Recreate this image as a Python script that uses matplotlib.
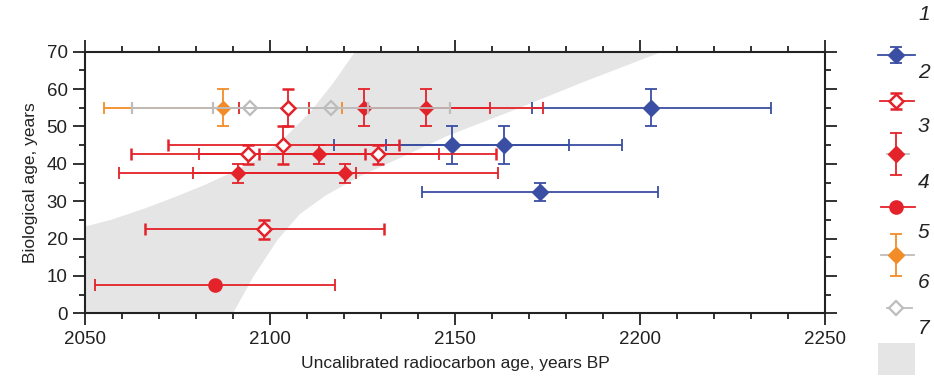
import matplotlib
matplotlib.use("Agg")
import matplotlib.pyplot as plt
from matplotlib.patches import Rectangle
from matplotlib.ticker import MultipleLocator

plt.rcParams['font.family'] = ['Liberation Sans', 'DejaVu Sans']

# ---- data ----
# series 1 (blue filled diamonds)
s1_x = [2203.1, 2149.1, 2163.2, 2173.0]
s1_y = [55, 45, 45, 32.5]
s1_xerr = [32.3, 31.7, 31.8, 31.9]
s1_yerr = [5, 5, 5, 2.5]
# series 2 (red open diamonds)
s2_x = [2104.9, 2103.6, 2094.0, 2129.1, 2098.5]
s2_y = [55, 45, 42.5, 42.5, 22.5]
s2_xerr = [0, 31.3, 31.6, 32.0, 32.2]
s2_yerr = [5, 5, 2.5, 2.5, 2.5]
# series 3 (red filled diamonds)
s3_x = [2125.5, 2142.2, 2113.3, 2091.3, 2120.3]
s3_y = [55, 55, 42.5, 37.5, 37.5]
s3_xerr = [34.0, 31.6, 32.4, 32.0, 41.2]
s3_yerr = [5, 5, 2.5, 2.5, 2.5]
# series 4 (red filled circle)
s4_x = [2085.1]
s4_y = [7.5]
s4_xerr = [32.4]
# series 5 (orange filled diamond)
s5_x = [2087.2]
s5_y = [55]
s5_xerr = [32.2]
s5_yerr = [5]
# series 6 (grey open diamonds)
s6_x = [2094.6, 2116.6]
s6_y = [55, 55]
s6_xerr = [32.0, 32.0]
# grey band (7)
band_upper_x = [2050, 2057, 2066, 2074, 2082, 2090, 2097, 2104, 2111, 2117, 2123]
band_upper_y = [23.2, 25.0, 28.0, 31.0, 34.2, 37.8, 41.5, 47.0, 54.0, 61.5, 70]
band_lower_x = [2206, 2185, 2165, 2148, 2135, 2124, 2115, 2108, 2102, 2095.5, 2090]
band_lower_y = [70, 62.0, 54.0, 47.5, 41.5, 36.5, 31.5, 26.5, 19.6, 9.8, 0]
band_corner_x = [2050]
band_corner_y = [0]

legend_labels = ['1', '2', '3', '4', '5', '6', '7']

BLUE = '#3a4ea3'
RED = '#e3222a'
ORANGE = '#f28c28'
GREY = '#bdbdbd'
BAND = '#e5e5e5'

W, H = 934, 382
fig = plt.figure(figsize=(W / 100, H / 100), dpi=100)
ax = fig.add_axes([85 / W, (H - 313.3) / H, 740 / W, 261.6 / H])

ax.fill(band_upper_x + band_lower_x + band_corner_x,
        band_upper_y + band_lower_y + band_corner_y,
        color=BAND, lw=0, zorder=0)

ekw = dict(capsize=4.5, elinewidth=1.3, capthick=1.3, linestyle='none')

ax.errorbar(s1_x, s1_y, xerr=s1_xerr, yerr=s1_yerr, fmt='D', ms=8,
            color=BLUE, mfc=BLUE, mec=BLUE, zorder=2, **ekw)
ax.errorbar(s3_x, s3_y, xerr=s3_xerr, yerr=s3_yerr, fmt='D', ms=7.5,
            color=RED, mfc=RED, mec=RED, zorder=2, **ekw)
ax.errorbar(s4_x, s4_y, xerr=s4_xerr, fmt='o', ms=9.5,
            color=RED, mfc=RED, mec=RED, zorder=2, **ekw)
ax.errorbar(s5_x, s5_y, xerr=s5_xerr, yerr=s5_yerr, fmt='D', ms=7.5,
            color=ORANGE, mfc=ORANGE, mec=ORANGE, zorder=2, **ekw)
ax.errorbar(s6_x, s6_y, xerr=s6_xerr, fmt='D', ms=7,
            color=GREY, mfc='none', mec=GREY, mew=1.6, zorder=3, **ekw)
ax.errorbar(s2_x, s2_y, xerr=s2_xerr, yerr=s2_yerr, fmt='D', ms=7,
            color=RED, mfc='white', mec=RED, mew=1.8, zorder=4, **ekw)

ax.set_xlim(2050, 2250)
ax.set_ylim(0, 70)
ax.xaxis.set_major_locator(MultipleLocator(50))
ax.xaxis.set_minor_locator(MultipleLocator(10))
ax.yaxis.set_major_locator(MultipleLocator(10))
ax.yaxis.set_minor_locator(MultipleLocator(5))
ax.tick_params(which='both', direction='out', top=True, right=True,
               labeltop=False, labelright=False, width=1.3, colors='#222222',
               labelcolor='#222222')
ax.tick_params(which='major', length=8.5, labelsize=13.5, pad=4)
ax.tick_params(which='minor', length=4.5)
for sp in ax.spines.values():
    sp.set_linewidth(1.5)
    sp.set_color('#222222')

ax.set_xlabel('Uncalibrated radiocarbon age, years BP', fontsize=12.5,
              color='#222222', labelpad=6)
ax.set_ylabel('Biological age, years', fontsize=12.5, color='#222222',
              labelpad=6)

# ---- legend ----
lax = fig.add_axes([860 / W, 0, 74 / W, 1])
lax.set_xlim(860, 934)
lax.set_ylim(H, 0)
lax.axis('off')
mx = 896
lkw = dict(capsize=4.5, elinewidth=1.3, capthick=1.3, linestyle='none')
# 1
lax.plot([878, 915], [55, 55], color=BLUE, lw=1.3)
lax.errorbar([mx], [55], yerr=[8], fmt='D', ms=8, color=BLUE, **lkw)
# 2
lax.plot([880, 914], [101, 101], color=RED, lw=1.3)
lax.errorbar([mx], [101], yerr=[8], fmt='D', ms=7, color=RED, mfc='white',
             mew=1.8, **lkw)
# 3
lax.errorbar([mx], [154], yerr=[21], fmt='D', ms=8, color=RED, **lkw)
lax.plot([887, 909], [154, 154], color=GREY, lw=1.3)
# 4
lax.plot([881, 915], [207, 207], color=RED, lw=1.3)
lax.plot([mx], [207], 'o', ms=9.5, color=RED)
# 5
lax.errorbar([mx], [255], yerr=[21], fmt='D', ms=8, color=ORANGE, **lkw)
lax.plot([881, 914], [255, 255], color=GREY, lw=1.3)
# 6
lax.plot([887, 912], [308, 308], color=GREY, lw=1.3)
lax.plot([mx], [308], 'D', ms=7, color=GREY, mfc='white', mew=1.6)
# 7
lax.add_patch(Rectangle((878, 343), 37, 32, color=BAND, lw=0))

num_y = [15, 72, 126, 182, 232, 283, 328]
for lab, yy in zip(legend_labels, num_y):
    lax.text(918, yy, lab, fontsize=15, style='italic', ha='left',
             va='center', color='#222222')

fig.savefig('out.png', dpi=100)
